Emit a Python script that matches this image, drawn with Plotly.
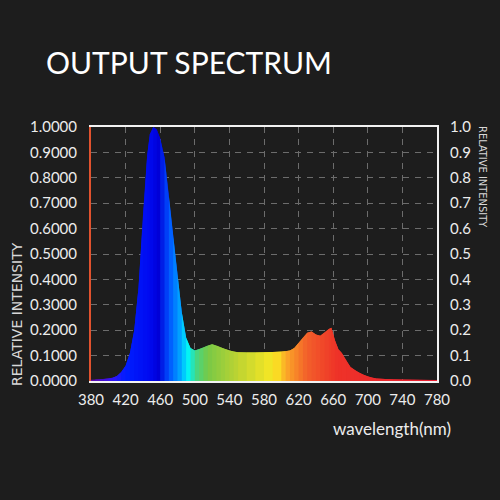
import plotly.graph_objects as go

# ---- data ----
wavelength = [380, 385, 390, 395, 400, 405, 410, 415, 420, 425, 430, 435, 440, 445, 448, 452,
              456, 460, 465, 470, 475, 480, 485, 490, 495, 500, 505, 510, 515, 520, 525, 530,
              535, 540, 545, 550, 560, 570, 580, 590, 600, 605, 610, 615, 620, 625, 630, 635,
              640, 645, 650, 655, 658, 662, 666, 670, 675, 680, 685, 690, 695, 700, 705, 710,
              720, 730, 740, 750, 760, 770, 780]
intensity = [0.005, 0.006, 0.007, 0.008, 0.010, 0.013, 0.020, 0.035, 0.060, 0.110, 0.200, 0.370,
             0.650, 0.890, 0.970, 1.000, 0.990, 0.955, 0.880, 0.730, 0.570, 0.420, 0.270, 0.170,
             0.130, 0.120, 0.125, 0.132, 0.140, 0.145, 0.140, 0.132, 0.126, 0.120, 0.115, 0.113,
             0.112, 0.112, 0.113, 0.114, 0.115, 0.117, 0.120, 0.130, 0.150, 0.170, 0.190, 0.195,
             0.183, 0.178, 0.190, 0.205, 0.210, 0.160, 0.125, 0.110, 0.080, 0.055, 0.042, 0.032,
             0.025, 0.018, 0.013, 0.010, 0.008, 0.006, 0.006, 0.005, 0.005, 0.004, 0.004]

x_ticks = [380, 420, 460, 500, 540, 580, 620, 660, 700, 740, 780]
y_ticks = [0.0, 0.1, 0.2, 0.3, 0.4, 0.5, 0.6, 0.7, 0.8, 0.9, 1.0]

# ---- style: wavelength -> colour ----
color_stops = [
    (380, (95, 10, 165)), (405, (50, 20, 250)), (420, (0, 30, 255)), (448, (0, 10, 240)),
    (458, (0, 0, 215)), (470, (0, 80, 255)), (484, (0, 170, 255)), (492, (0, 245, 250)),
    (502, (70, 215, 130)), (515, (120, 200, 70)), (550, (190, 212, 50)), (592, (250, 232, 35)),
    (608, (250, 160, 40)), (630, (242, 95, 42)), (665, (238, 50, 40)), (780, (232, 30, 50)),
]

def wl_color(w):
    for (w0, c0), (w1, c1) in zip(color_stops[:-1], color_stops[1:]):
        if w0 <= w <= w1:
            t = (w - w0) / (w1 - w0)
            c = [round(a + (b - a) * t) for a, b in zip(c0, c1)]
            return f"rgb({c[0]},{c[1]},{c[2]})"
    return "rgb(232,30,50)"

BG = "#1d1d1d"
TXT = "#ececec"
TICKFONT = dict(family="Lato", size=15, color=TXT)

fig = go.Figure()
n = len(wavelength)
for i in range(n - 1):
    j = min(i + 2, n - 1)
    mid = (wavelength[i] + wavelength[i + 1]) / 2
    col = wl_color(mid)
    fig.add_trace(go.Scatter(
        x=wavelength[i:j + 1], y=intensity[i:j + 1], mode="lines",
        line=dict(width=0, color=col), fill="tozeroy", fillcolor=col,
        hoverinfo="skip", showlegend=False))

# invisible trace to activate the right axis
fig.add_trace(go.Scatter(x=[wavelength[0]], y=[intensity[0]], yaxis="y2", mode="markers",
                         marker=dict(opacity=0), hoverinfo="skip", showlegend=False))

grid = dict(showgrid=True, gridcolor="#6c6c6c", gridwidth=1, griddash="6px,6px")

W, H = 500, 500
L, R, T, B = 91, 63, 127, 119
pw, ph = W - L - R, H - T - B

def px_x(px):
    return (px - L) / pw

def px_y(py):
    return (H - B - py) / ph

fig.update_layout(
    width=W, height=H,
    paper_bgcolor=BG, plot_bgcolor=BG,
    margin=dict(l=L, r=R, t=T, b=B),
    font=dict(family="Lato", color=TXT, size=14),
    xaxis=dict(range=[380, 780], tickvals=x_ticks, ticktext=[str(v) for v in x_ticks],
               showline=True, linecolor="#f2f2f2", linewidth=2, mirror=True,
               ticks="", zeroline=False, tickfont=TICKFONT, ticklabelstandoff=4, **grid),
    yaxis=dict(range=[0, 1], tickvals=y_ticks, ticktext=[f"{v:.4f}" for v in y_ticks],
               showline=True, linecolor="#e0522e", linewidth=2, ticks="",
               zeroline=False, tickfont=TICKFONT, ticklabelstandoff=9, **grid),
    yaxis2=dict(range=[0, 1], overlaying="y", side="right", tickvals=y_ticks,
                ticktext=[f"{v:.1f}" for v in y_ticks], showline=True,
                linecolor="#f2f2f2", linewidth=2, ticks="", showgrid=False,
                zeroline=False, tickfont=TICKFONT, ticklabelstandoff=8),
    annotations=[
        dict(text="OUTPUT SPECTRUM", x=px_x(44), y=px_y(62), xref="paper", yref="paper",
             showarrow=False, xanchor="left", yanchor="middle",
             font=dict(size=30, color="#ffffff", family="Lato")),
        dict(text="RELATIVE INTENSITY", x=px_x(17), y=px_y(314), xref="paper", yref="paper",
             textangle=-90, showarrow=False, xanchor="center", yanchor="middle",
             font=dict(size=14, color="#d8d8d8", family="DejaVu Sans")),
        dict(text="RELATIVE INTENSITY", x=px_x(483), y=px_y(177), xref="paper", yref="paper",
             textangle=90, showarrow=False, xanchor="center", yanchor="middle",
             font=dict(size=11, color="#d8d8d8", family="DejaVu Sans Condensed")),
        dict(text="wavelength(nm)", x=px_x(453), y=px_y(428), xref="paper", yref="paper",
             showarrow=False, xanchor="right", yanchor="middle",
             font=dict(size=17, color=TXT, family="Lato")),
    ],
)

fig.write_html("out.html")
